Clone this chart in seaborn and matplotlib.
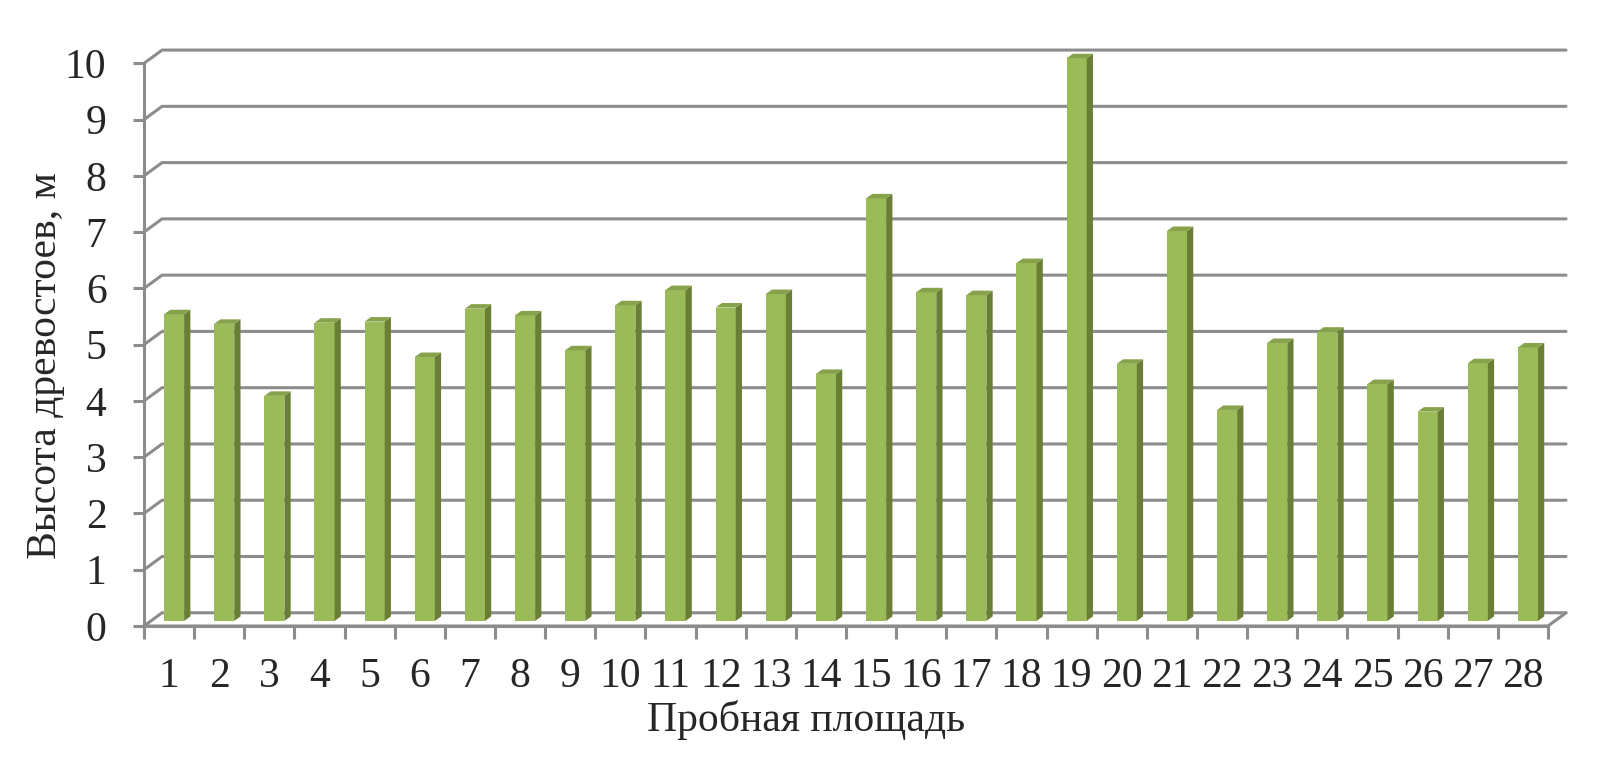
import numpy as np
import pandas as pd
import matplotlib
matplotlib.use("Agg")
import matplotlib.pyplot as plt
from matplotlib.patches import Polygon
import seaborn as sns

# données
plots = [str(i) for i in range(1, 29)]
heights = [5.45, 5.28, 4.00, 5.30, 5.32, 4.69, 5.55, 5.43, 4.81, 5.61,
           5.88, 5.57, 5.81, 4.39, 7.51, 5.84, 5.79, 6.36, 10.0, 4.57,
           6.93, 3.75, 4.94, 5.14, 4.21, 3.72, 4.58, 4.86]
y_ticks = list(range(0, 11))
x_title = "Пробная площадь"
y_title = "Высота древостоев, м"

df = pd.DataFrame({"plot": plots, "height": heights})

sns.set_style("white")
plt.rcParams["font.family"] = ["Liberation Serif", "DejaVu Serif"]

W, H = 1601, 767
fig = plt.figure(figsize=(W / 100, H / 100), dpi=100)
ax = fig.add_axes([144 / W, (H - 626) / H, 1404 / W, (626 - 63.3) / H])

grid_col = "#8c8c8c"
front_col = "#9bbb59"
side_col = "#6a7f36"
top_col = "#86a24a"

# profondeur de la perspective (paroi du fond)
dx, dy = 0.36, 0.235
# décalage des barres (milieu de la profondeur) et épaisseur
ox, oy = 0.10, 0.09
sdx, sdy = 0.125, 0.08

sns.barplot(data=df, x="plot", y="height", color=front_col, width=0.4,
            saturation=1, linewidth=0, ax=ax, zorder=3)
ax.set_xlim(-0.5, 27.5)
ax.set_ylim(0, 10)

# grille sur la paroi du fond
for v in y_ticks:
    ax.plot([-0.5, -0.5 + dx, 27.5 + dx], [v, v + dy, v + dy],
            color=grid_col, lw=2.2, clip_on=False, zorder=1,
            solid_joinstyle="miter")
ax.plot([-0.5, 27.5, 27.5 + dx], [0, 0, dy], color=grid_col, lw=2.2,
        clip_on=False, zorder=1)

# faces latérales et supérieures des barres
for p in ax.patches:
    p.set_x(p.get_x() + ox)
    p.set_y(p.get_y() + oy)
    p.set_clip_on(False)
    x0 = p.get_x()
    x1 = x0 + p.get_width()
    y0 = p.get_y()
    y1 = y0 + p.get_height()
    ax.add_patch(Polygon([(x1, y0), (x1 + sdx, y0 + sdy), (x1 + sdx, y1 + sdy), (x1, y1)],
                         closed=True, fc=side_col, ec="none", zorder=3, clip_on=False))
    ax.add_patch(Polygon([(x0, y1), (x1, y1), (x1 + sdx, y1 + sdy), (x0 + sdx, y1 + sdy)],
                         closed=True, fc=top_col, ec="none", zorder=3, clip_on=False))

for s in ["top", "right"]:
    ax.spines[s].set_visible(False)
for s in ["left", "bottom"]:
    ax.spines[s].set_color(grid_col)
    ax.spines[s].set_linewidth(2.2)

ax.set_yticks(y_ticks)
ax.set_yticklabels([str(v) for v in y_ticks])
ax.tick_params(axis="y", which="major", length=8, width=2.2, color=grid_col,
               labelsize=30, pad=19, left=True)

ax.set_xticks(range(len(plots)))
ax.set_xticklabels(plots)
ax.set_xticks(np.arange(-0.5, 28, 1), minor=True)
ax.tick_params(axis="x", which="major", length=0, labelsize=30, pad=23, bottom=True)
ax.tick_params(axis="x", which="minor", length=9, width=2.2, color=grid_col, bottom=True)
ax.set_xlabel("")
ax.set_ylabel("")

fig.text(806 / W, (H - 720) / H, x_title, ha="center", va="center", fontsize=30)
fig.text(46 / W, (H - 366) / H, y_title, ha="center", va="center",
         rotation=90, fontsize=30)

fig.savefig("out.png", dpi=100, facecolor="white")
